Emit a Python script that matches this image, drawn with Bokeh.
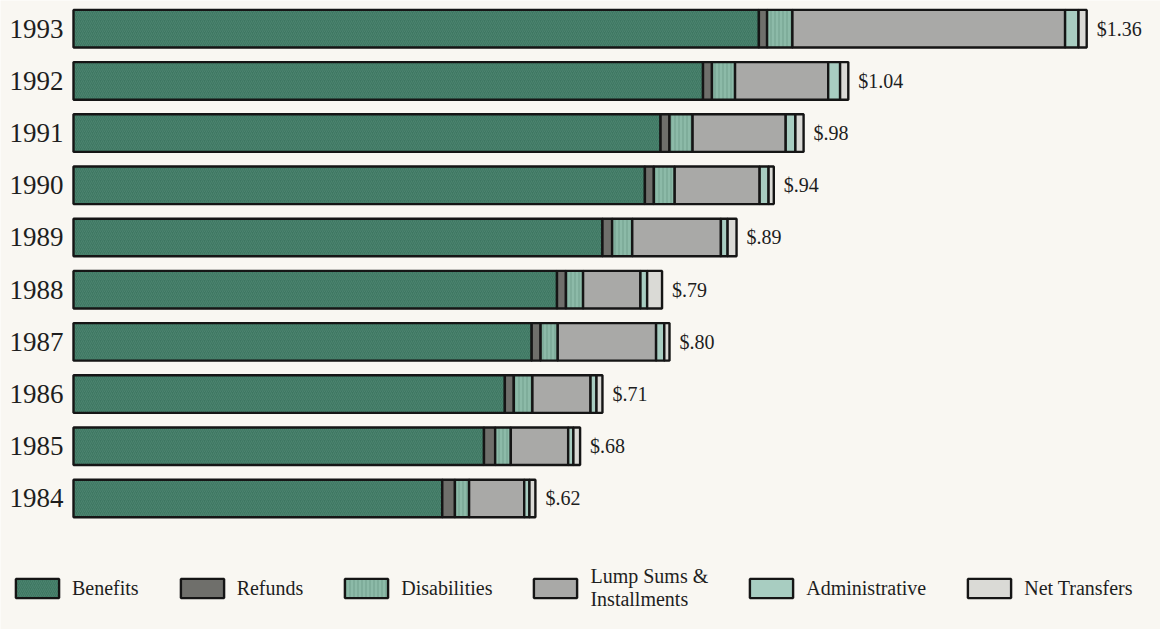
import pandas as pd
from bokeh.plotting import figure
from bokeh.models import ColumnDataSource, Range1d, Legend, LegendItem
from bokeh.core.properties import value
from bokeh.embed import file_html
from bokeh.resources import INLINE

# ---- data, in dollars ----
years = ["1984", "1985", "1986", "1987", "1988", "1989", "1990", "1991", "1992", "1993"]
benefits = [0.495, 0.551, 0.579, 0.615, 0.649, 0.710, 0.767, 0.788, 0.845, 0.920]
refunds = [0.017, 0.015, 0.012, 0.012, 0.012, 0.013, 0.012, 0.012, 0.012, 0.011]
disabilities = [0.019, 0.021, 0.025, 0.023, 0.023, 0.027, 0.028, 0.031, 0.031, 0.034]
lump_sums = [0.074, 0.077, 0.078, 0.132, 0.077, 0.119, 0.114, 0.125, 0.125, 0.366]
administrative = [0.007, 0.007, 0.008, 0.011, 0.009, 0.009, 0.012, 0.013, 0.016, 0.018]
net_transfers = [0.008, 0.009, 0.008, 0.007, 0.020, 0.012, 0.007, 0.011, 0.011, 0.011]
total_labels = ["$.62", "$.68", "$.71", "$.80", "$.79", "$.89", "$.94", "$.98", "$1.04", "$1.36"]

series_names = ["Benefits", "Refunds", "Disabilities", "Lump Sums &\nInstallments",
                "Administrative", "Net Transfers"]
series_values = [benefits, refunds, disabilities, lump_sums, administrative, net_transfers]

PAPER = "#f9f7f2"
FONT = "Liberation Serif"
styles = [
    dict(fill_color="#3e7762", hatch_pattern="/", hatch_color="#5a8f7b", hatch_alpha=0.5, hatch_scale=4, hatch_weight=1),
    dict(fill_color="#6f6f6b"),
    dict(fill_color="#8cbaa8", hatch_pattern="|", hatch_color="#6a9987", hatch_alpha=0.8, hatch_scale=4, hatch_weight=1),
    dict(fill_color="#a9a9a7"),
    dict(fill_color="#a8cdc1"),
    dict(fill_color="#dadad6"),
]

df = pd.DataFrame({"year": years, "y": list(range(len(years)))})
left = [0.0] * len(years)
for name, vals in zip(series_names, series_values):
    key = name.split()[0].lower()
    df[key + "_l"] = left
    right = [a + b for a, b in zip(left, vals)]
    df[key + "_r"] = right
    left = right
df["total"] = left
df["label"] = total_labels
src = ColumnDataSource(df)

W, H = 1160, 629
p = figure(width=W, height=H, output_backend="svg", toolbar_location=None,
           x_range=Range1d(-73 / 745, (W - 73) / 745), y_range=Range1d(-2.51, 9.54),
           x_axis_location=None, y_axis_location=None,
           min_border=0, min_border_left=0, min_border_right=0,
           min_border_top=0, min_border_bottom=0)
p.outline_line_color = None
p.xgrid.visible = False
p.ygrid.visible = False
p.background_fill_color = PAPER
p.border_fill_color = PAPER

renderers = []
for name, st in zip(series_names, styles):
    key = name.split()[0].lower()
    r = p.hbar(y="y", left=key + "_l", right=key + "_r", height=0.72, source=src,
               line_color="#151515", line_width=2.4, **st)
    renderers.append(r)

# year labels
p.text(x=0, y="y", text="year", source=src, x_offset=-10, text_align="right",
       text_baseline="middle", text_font=value(FONT), text_font_size="27px",
       text_color="#1e1e1e")
# totals
p.text(x="total", y="y", text="label", source=src, x_offset=10, text_align="left",
       text_baseline="middle", text_font=value(FONT), text_font_size="20px",
       text_color="#1e1e1e")

legend = Legend(items=[LegendItem(label=n, renderers=[r]) for n, r in zip(series_names, renderers)],
                orientation="horizontal", location=(10, 18), padding=0, spacing=36,
                label_standoff=8, glyph_width=54, glyph_height=24,
                label_text_font=FONT, label_text_font_size="20px", label_text_color="#1e1e1e",
                label_text_line_height=1.3,
                border_line_color=None, background_fill_alpha=0)
p.add_layout(legend)

open("out.html", "w").write(file_html(p, INLINE))
